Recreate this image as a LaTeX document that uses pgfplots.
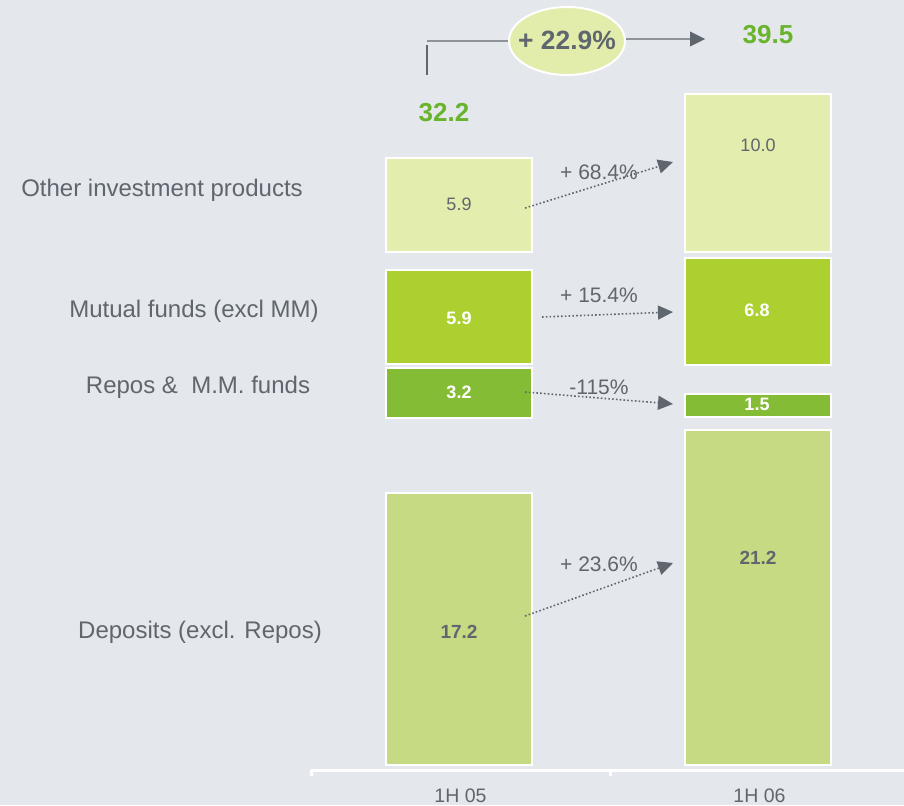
\documentclass[border=0pt]{standalone}
\usepackage{fontspec}
\setmainfont{Liberation Sans}
\usepackage{pgfplots}
\pgfplotsset{compat=1.18}
\usetikzlibrary{arrows.meta}
\definecolor{bg}{HTML}{E4E7EC}
\definecolor{cdep}{HTML}{C6DA83}
\definecolor{crep}{HTML}{84BC35}
\definecolor{cmut}{HTML}{ABD02F}
\definecolor{coth}{HTML}{E3EDAD}
\definecolor{txt}{HTML}{5F666D}
\definecolor{tot}{HTML}{69B42D}
\definecolor{ell}{HTML}{E2ECAB}
\definecolor{lin}{HTML}{8E9499}
\begin{document}
\begin{tikzpicture}
\useasboundingbox (0,0) rectangle (452pt,402.5pt);
\clip (0,0) rectangle (452pt,402.5pt);
\fill[bg] (0,0) rectangle (452pt,402.5pt);
\begin{axis}[
  at={(155.5pt,17.5pt)}, anchor=south west,
  scale only axis, width=299pt, height=381.7pt,
  xmin=-0.5, xmax=1.5, ymin=-0.3165, ymax=48,
  ybar stacked, bar width=73pt, bar shift=-0.75pt,
  axis x line*=bottom, axis y line=none,
  axis line style={white, line width=1.5pt, -},
  xtick={0,1}, xticklabels={1H 05, 1H 06},
  major tick length=0pt,
  extra x ticks={-0.5,0.5,1.5}, extra x tick labels={},
  extra x tick style={major tick length=3pt, tick align=outside, tick style={white, line width=1.5pt}},
  xticklabel style={font=\fontsize{9.75}{11}\selectfont, text=txt, yshift=-6pt},
  clip=false,
]
\addplot[fill=cdep, draw=white, line width=1pt] coordinates {(0,17.2) (1,21.2)};
\addplot[fill=none, draw=none] coordinates {(0,4.75) (1,0.8)};
\addplot[fill=crep, draw=white, line width=1pt] coordinates {(0,3.2) (1,1.5)};
\addplot[fill=none, draw=none] coordinates {(0,0.25) (1,1.8)};
\addplot[fill=cmut, draw=white, line width=1pt] coordinates {(0,5.9) (1,6.8)};
\addplot[fill=none, draw=none] coordinates {(0,1.2) (1,0.4)};
\addplot[fill=coth, draw=white, line width=1pt] coordinates {(0,5.9) (1,10.0)};
\end{axis}
\begin{scope}[x=0.5pt,y=-0.5pt,yshift=402.5pt]
% left labels
\begin{scope}[every node/.style={font=\fontsize{12}{14}\selectfont, text=txt}]
\node at (162,190) {Other investment products};
\node at (194,311) {Mutual funds (excl MM)};
\node at (198,387) {Repos \&\ \ M.M. funds};
\node at (200,632) {Deposits (excl. Repos)};
\end{scope}
% bar labels
\node[font=\fontsize{9}{11}\selectfont, text=txt] at (459,204) {5.9};
\node[font=\fontsize{9}{11}\selectfont, text=txt] at (758,145) {10.0};
\node[font=\fontsize{9}{11}\selectfont\bfseries, text=white] at (459,318) {5.9};
\node[font=\fontsize{9}{11}\selectfont\bfseries, text=white] at (757,310) {6.8};
\node[font=\fontsize{9}{11}\selectfont\bfseries, text=white] at (459,392) {3.2};
\node[font=\fontsize{9}{11}\selectfont\bfseries, text=white] at (757,404) {1.5};
\node[font=\fontsize{9.5}{11}\selectfont\bfseries, text=txt] at (459,632) {17.2};
\node[font=\fontsize{9.5}{11}\selectfont\bfseries, text=txt] at (758,558) {21.2};
% dotted arrows
\begin{scope}[txt, line width=0.8pt, dash pattern=on 0.8pt off 1.1pt, -{Triangle[length=7.5pt,width=7pt]}]
\draw (525,208) -- (673,162);
\draw (542,317) -- (673,312);
\draw (525,392) -- (673,404);
\draw (525,616) -- (673,563);
\end{scope}
\begin{scope}[every node/.style={font=\fontsize{10.5}{12}\selectfont, text=txt}]
\node at (599,172) {+ 68.4\%};
\node at (599,295) {+ 15.4\%};
\node at (599,387) {-115\%};
\node at (599,564) {+ 23.6\%};
\end{scope}
% totals
\node[font=\fontsize{13}{15}\selectfont\bfseries, text=tot] at (444,113) {32.2};
\node[font=\fontsize{13}{15}\selectfont\bfseries, text=tot] at (768,35) {39.5};
% growth connector
\draw[txt, line width=1pt] (427,45) -- (427,75);
\draw[lin, line width=0.6pt] (427,41) -- (509,41);
\draw[lin, line width=0.6pt] (626,39) -- (692,39);
\fill[txt] (705,39) -- (690,31.5) -- (690,46.5) -- cycle;
\draw[white, fill=ell, line width=1pt] (567,41) ellipse [x radius=29pt, y radius=17pt];
\node[font=\fontsize{13.2}{15}\selectfont\bfseries, text=txt] at (567,40) {+ 22.9\%};
\end{scope}
\end{tikzpicture}
\end{document}
